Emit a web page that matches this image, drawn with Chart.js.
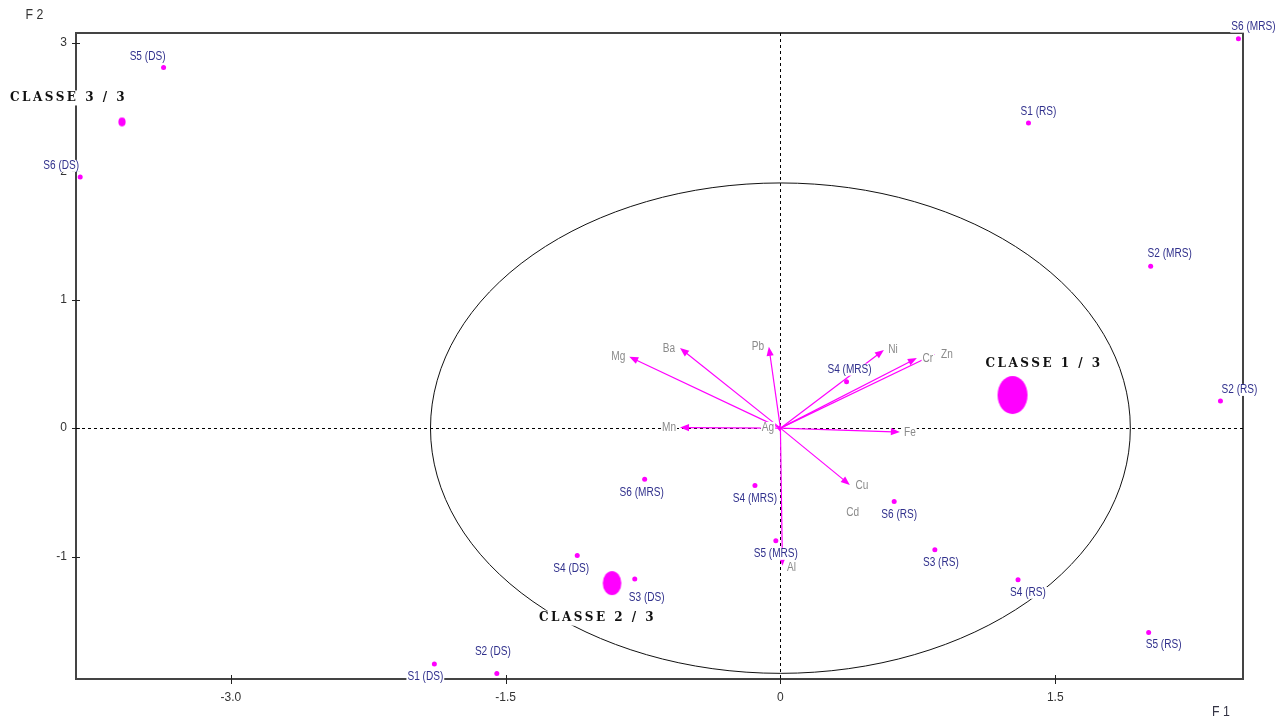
<!DOCTYPE html>
<html>
<head>
<meta charset="utf-8">
<script src="https://cdn.jsdelivr.net/npm/chart.js@4.4.1/dist/chart.umd.min.js"></script>
<style>
  html, body { margin: 0; padding: 0; background: #ffffff; }
  canvas { display: block; }
</style>
</head>
<body>
<canvas id="acp" width="1282" height="720"></canvas>
<script>
// Individuals (stations) on the F1 x F2 plane
const indivNames = ['S1 (RS)', 'S2 (RS)', 'S3 (RS)', 'S4 (RS)', 'S5 (RS)', 'S6 (RS)',
  'S2 (MRS)', 'S4 (MRS)', 'S4 (MRS)', 'S5 (MRS)', 'S6 (MRS)', 'S6 (MRS)',
  'S1 (DS)', 'S2 (DS)', 'S3 (DS)', 'S4 (DS)', 'S5 (DS)', 'S6 (DS)'];
const indivF1 = [1.354, 2.402, 0.843, 1.297, 2.010, 0.621,
  2.021, 0.361, -0.139, -0.025, 2.500, -0.741,
  -1.889, -1.548, -0.795, -1.109, -3.367, -3.822];
const indivF2 = [2.377, 0.212, -0.948, -1.181, -1.591, -0.572,
  1.262, 0.362, -0.447, -0.878, 3.034, -0.398,
  -1.837, -1.911, -1.176, -0.992, 2.809, 1.957];

// Class centroids
const classNames = ['CLASSE 1 / 3', 'CLASSE 2 / 3', 'CLASSE 3 / 3'];
const classF1 = [1.267, -0.919, -3.594];
const classF2 = [0.258, -1.207, 2.385];

// Variables (metals) : correlation vectors
const varNames = ['Mg', 'Ba', 'Pb', 'Ni', 'Cr', 'Zn', 'Mn', 'Fe', 'Cu', 'Al', 'Ag', 'Cd'];
const varF1 = [-0.825, -0.548, -0.063, 0.565, 0.745, 0.843, -0.548, 0.652, 0.379, 0.011, -0.019, 0.394];
const varF2 = [0.556, 0.624, 0.634, 0.609, 0.546, 0.577, 0.005, -0.030, -0.442, -1.072, 0.002, -0.658];
const varLabelOnly = ['Cd'];

const circleRadius = 1.91;

// Axis ticks
const xTickValues = [-3.0, -1.5, 0, 1.5];
const xTickLabels = ['-3.0', '-1.5', '0', '1.5'];
const yTickValues = [3, 2, 1, 0, -1];
const yTickLabels = ['3', '2', '1', '0', '-1'];
const xTitle = 'F 1';
const yTitle = 'F 2';

// ---- layout / style (pixel offsets of labels, marker sizes) ----
const indivLabelOffset = [[10, -11], [19, -11], [6, 13], [10, 13], [15, 12], [5, 13],
  [19, -12], [3, -12], [0, 13], [0, 13], [15, -12], [-3, 13],
  [-9, 13], [-4, -22], [12, 19], [-6, 13], [-16, -11], [-19, -11]];
const classLabelOffset = [[-27, -31], [-73, 35], [-112, -24]];
const classMarkerSize = [[15, 19], [9.3, 12], [3.6, 4.4]];
const varLabelOffset = [[-11, 0], [-11, 1], [-11, 0], [9, 0], [11, 1], [12, 1],
  [-11, 0], [10, 1], [12, 1], [9, 2], [-9, 0], [0, 0]];

const MAGENTA = '#ff00ff';
const INDIV_COLOR = '#30308c';
const VAR_COLOR = '#8a8a8a';

// narrow sans for the small labels
const probe = document.createElement('canvas').getContext('2d');
function textW(font, t) { probe.font = font; return probe.measureText(t).width; }
const hasNarrow = textW('12px "Liberation Sans Narrow", monospace', 'S1 (DS) Mg') !==
                  textW('12px monospace', 'S1 (DS) Mg');
const SMALL_FAMILY = hasNarrow ? '"Liberation Sans Narrow"' : '"Liberation Sans"';
const SMALL_SCALE = hasNarrow ? 1.0 : 0.84;

function ellipseMarker(rx, ry) {
  const c = document.createElement('canvas');
  c.width = Math.ceil(rx * 2) + 2;
  c.height = Math.ceil(ry * 2) + 2;
  const g = c.getContext('2d');
  g.fillStyle = MAGENTA;
  g.beginPath();
  g.ellipse(c.width / 2, c.height / 2, rx, ry, 0, 0, Math.PI * 2);
  g.fill();
  return c;
}

function drawLabel(ctx, text, cx, cy, opts) {
  ctx.save();
  ctx.font = opts.font;
  if (opts.letterSpacing) ctx.letterSpacing = opts.letterSpacing;
  const sx = opts.scaleX || 1;
  const w = ctx.measureText(text).width * sx;
  const left = opts.align === 'left' ? cx : cx - w / 2;
  if (opts.bg) {
    ctx.fillStyle = '#ffffff';
    const h = opts.boxH || 12;
    ctx.fillRect(left - 1, cy - h / 2, w + 2, h);
  }
  ctx.translate(left, cy);
  ctx.scale(sx, 1);
  ctx.textAlign = 'left';
  ctx.textBaseline = 'middle';
  ctx.fillStyle = opts.color;
  ctx.fillText(text, 0, 0);
  ctx.restore();
}

function drawArrow(ctx, x0, y0, x1, y1) {
  const dx = x1 - x0, dy = y1 - y0;
  const len = Math.hypot(dx, dy);
  if (len < 0.5) return;
  const ux = dx / len, uy = dy / len;
  const L = Math.min(9, len), W = 3.6;
  ctx.beginPath();
  ctx.moveTo(x0, y0);
  ctx.lineTo(x1 - ux * L * 0.7, y1 - uy * L * 0.7);
  ctx.stroke();
  ctx.beginPath();
  ctx.moveTo(x1, y1);
  ctx.lineTo(x1 - ux * L - uy * W, y1 - uy * L + ux * W);
  ctx.lineTo(x1 - ux * L + uy * W, y1 - uy * L - ux * W);
  ctx.closePath();
  ctx.fill();
}

const acpPlugin = {
  id: 'acpPlane',
  beforeDatasetsDraw(chart) {
    const { ctx, chartArea: a, scales: { x, y } } = chart;
    ctx.save();
    // frame
    ctx.strokeStyle = '#444';
    ctx.lineWidth = 2;
    ctx.strokeRect(Math.round(a.left), Math.round(a.top), Math.round(a.right - a.left), Math.round(a.bottom - a.top));
    // tick marks crossing the frame
    ctx.strokeStyle = '#222';
    ctx.lineWidth = 1;
    xTickValues.forEach(v => {
      const px = Math.round(x.getPixelForValue(v)) + 0.5;
      ctx.beginPath(); ctx.moveTo(px, a.bottom - 4); ctx.lineTo(px, a.bottom + 5); ctx.stroke();
    });
    yTickValues.forEach(v => {
      const py = Math.round(y.getPixelForValue(v)) + 0.5;
      ctx.beginPath(); ctx.moveTo(a.left - 4, py); ctx.lineTo(a.left + 4, py); ctx.stroke();
    });
    // dashed origin axes
    const ox = Math.round(x.getPixelForValue(0)) + 0.5;
    const oy = Math.round(y.getPixelForValue(0)) + 0.5;
    ctx.strokeStyle = '#000';
    ctx.setLineDash([3, 3]);
    ctx.beginPath(); ctx.moveTo(a.left, oy); ctx.lineTo(a.right, oy); ctx.stroke();
    ctx.beginPath(); ctx.moveTo(ox, a.top); ctx.lineTo(ox, a.bottom); ctx.stroke();
    ctx.setLineDash([]);
    // correlation circle
    const rx = x.getPixelForValue(circleRadius) - x.getPixelForValue(0);
    const ry = y.getPixelForValue(0) - y.getPixelForValue(circleRadius);
    ctx.strokeStyle = '#111';
    ctx.lineWidth = 1;
    ctx.beginPath();
    ctx.ellipse(x.getPixelForValue(0), y.getPixelForValue(0), rx, ry, 0, 0, Math.PI * 2);
    ctx.stroke();
    // variable vectors
    ctx.strokeStyle = MAGENTA;
    ctx.fillStyle = MAGENTA;
    ctx.lineWidth = 1.2;
    const x0 = x.getPixelForValue(0), y0 = y.getPixelForValue(0);
    varNames.forEach((n, i) => {
      if (varLabelOnly.includes(n)) return;
      drawArrow(ctx, x0, y0, x.getPixelForValue(varF1[i]), y.getPixelForValue(varF2[i]));
    });
    ctx.restore();
  },
  afterDatasetsDraw(chart) {
    const { ctx, scales: { x, y } } = chart;
    const smallFont = `12px ${SMALL_FAMILY}`;
    // variable names
    varNames.forEach((n, i) => {
      const o = varLabelOffset[i];
      drawLabel(ctx, n, x.getPixelForValue(varF1[i]) + o[0], y.getPixelForValue(varF2[i]) + o[1],
        { font: smallFont, scaleX: SMALL_SCALE, color: VAR_COLOR, bg: true });
    });
    // individual names
    indivNames.forEach((n, i) => {
      const o = indivLabelOffset[i];
      drawLabel(ctx, n, x.getPixelForValue(indivF1[i]) + o[0], y.getPixelForValue(indivF2[i]) + o[1],
        { font: smallFont, scaleX: SMALL_SCALE, color: INDIV_COLOR, bg: true });
    });
    // class names
    classNames.forEach((n, i) => {
      const o = classLabelOffset[i];
      drawLabel(ctx, n, x.getPixelForValue(classF1[i]) + o[0], y.getPixelForValue(classF2[i]) + o[1],
        { font: 'bold 12px "DejaVu Serif"', letterSpacing: '2.5px', align: 'left', color: '#111', bg: true, boxH: 15 });
    });
    // axis titles
    drawLabel(ctx, yTitle, 34.5, 15.5, { font: '14px "Liberation Sans"', scaleX: 0.88, color: '#333' });
    drawLabel(ctx, xTitle, 1221, 712.5, { font: '14px "Liberation Sans"', scaleX: 0.88, color: '#334' });
  }
};

const tickFont = { family: hasNarrow ? 'Liberation Sans Narrow' : 'Liberation Sans', size: 12 };

new Chart(document.getElementById('acp'), {
  type: 'scatter',
  data: {
    datasets: [
      {
        label: 'Individus',
        data: indivNames.map((n, i) => ({ x: indivF1[i], y: indivF2[i] })),
        pointRadius: 2.5,
        pointBackgroundColor: MAGENTA,
        pointBorderWidth: 0,
        clip: false
      },
      {
        label: 'Classes',
        data: classNames.map((n, i) => ({ x: classF1[i], y: classF2[i] })),
        pointStyle: classMarkerSize.map(s => ellipseMarker(s[0], s[1])),
        clip: false
      }
    ]
  },
  options: {
    responsive: false,
    animation: false,
    events: [],
    layout: { padding: { top: 33, right: 39, left: 0, bottom: 0 } },
    plugins: { legend: { display: false }, tooltip: { enabled: false } },
    scales: {
      x: {
        type: 'linear',
        min: -3.845, max: 2.525,
        afterFit(s) { s.height = 41; },
        afterBuildTicks(s) { s.ticks = xTickValues.map(v => ({ value: v })); },
        grid: { display: false, drawTicks: false, tickLength: 0 },
        border: { display: false },
        ticks: {
          autoSkip: false, maxRotation: 0, padding: 11,
          font: tickFont, color: '#333',
          callback: (v, i) => xTickLabels[i]
        }
      },
      y: {
        type: 'linear',
        min: -1.954, max: 3.078,
        afterFit(s) { s.width = 76; },
        afterBuildTicks(s) { s.ticks = yTickValues.map(v => ({ value: v })); },
        grid: { display: false, drawTicks: false, tickLength: 0 },
        border: { display: false },
        ticks: {
          autoSkip: false, padding: 9,
          font: tickFont, color: '#333',
          callback: (v, i) => yTickLabels[i]
        }
      }
    }
  },
  plugins: [acpPlugin]
});
</script>
</body>
</html>
